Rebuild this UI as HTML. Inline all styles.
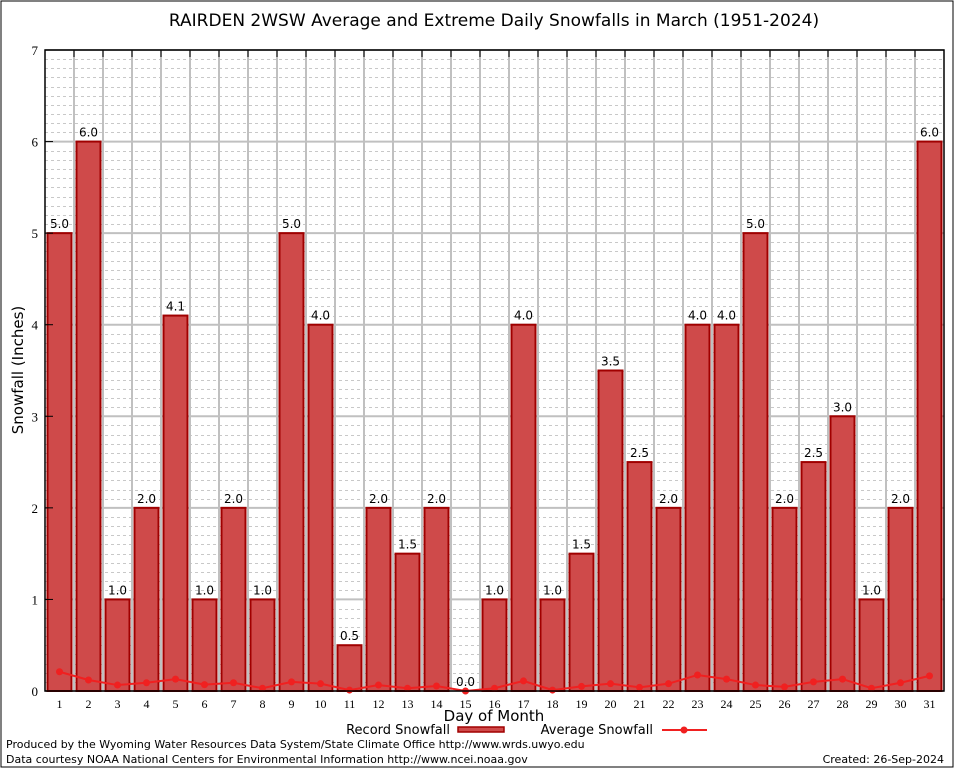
<!DOCTYPE html>
<html><head><meta charset="utf-8"><style>
body{margin:0;background:#fff;}
svg{display:block;font-family:"DejaVu Sans","Liberation Sans",sans-serif;}
</style></head><body>
<svg id="chart" width="954" height="768">
<rect x="1" y="1" width="952" height="766" fill="none" stroke="#000" stroke-width="1"/>
<text x="494" y="26" text-anchor="middle" font-size="17">RAIRDEN 2WSW Average and Extreme Daily Snowfalls in March (1951-2024)</text>
<g id="grid"></g>
<g id="bars"></g>
<g id="avg"></g>
<g id="axes"></g>
<text transform="translate(23,370) rotate(-90)" text-anchor="middle" font-size="15">Snowfall (Inches)</text>
<text x="494" y="721" text-anchor="middle" font-size="15">Day of Month</text>
<g>
<text x="450" y="734" text-anchor="end" font-size="13">Record Snowfall</text>
<rect x="458" y="727" width="46" height="5" fill="#cf4a4a" stroke="#a00000" stroke-width="1.5"/>
<text x="653" y="734" text-anchor="end" font-size="13">Average Snowfall</text>
<line x1="662" y1="730" x2="707" y2="730" stroke="#f02020" stroke-width="2"/>
<circle cx="684" cy="730" r="3.5" fill="#f02020"/>
</g>
<text x="6" y="748" font-size="11">Produced by the Wyoming Water Resources Data System/State Climate Office http://www.wrds.uwyo.edu</text>
<text x="6" y="763" font-size="11">Data courtesy NOAA National Centers for Environmental Information http://www.ncei.noaa.gov</text>
<text x="944" y="763" text-anchor="end" font-size="11">Created: 26-Sep-2024</text>
</svg>
<script>
const days=[1,2,3,4,5,6,7,8,9,10,11,12,13,14,15,16,17,18,19,20,21,22,23,24,25,26,27,28,29,30,31];
const recordSnow=[5.0,6.0,1.0,2.0,4.1,1.0,2.0,1.0,5.0,4.0,0.5,2.0,1.5,2.0,0.0,1.0,4.0,1.0,1.5,3.5,2.5,2.0,4.0,4.0,5.0,2.0,2.5,3.0,1.0,2.0,6.0];
const avgSnow=[0.21,0.12,0.065,0.09,0.13,0.07,0.09,0.03,0.1,0.08,0.01,0.065,0.03,0.055,0.0,0.03,0.11,0.01,0.05,0.08,0.04,0.08,0.175,0.13,0.065,0.045,0.1,0.13,0.03,0.09,0.165];
const yTicks=[0,1,2,3,4,5,6,7];
const NS='http://www.w3.org/2000/svg';
const L=45,R=944,T=50,B=691,yMax=7;
const slot=(R-L)/days.length;
function xs(i){return L+slot*(i+0.5);}
function ys(v){return B-(v/yMax)*(B-T);}
function mk(tag,attrs,parent){const e=document.createElementNS(NS,tag);for(const k in attrs)e.setAttribute(k,attrs[k]);parent.appendChild(e);return e;}
const grid=document.getElementById('grid'),bars=document.getElementById('bars'),avg=document.getElementById('avg'),axes=document.getElementById('axes');
for(let k=1;k<yMax*10;k++){if(k%10===0)continue;const y=Math.round(ys(k/10))+0.5;
const l=mk('line',{x1:L,x2:R,y1:y,y2:y,stroke:'#c8c8c8','stroke-width':1,'stroke-dasharray':'3,3'},grid);

}
yTicks.forEach(v=>{const y=ys(v);
const l=mk('line',{x1:L,x2:R,y1:y,y2:y,stroke:'#c0c0c0','stroke-width':2},grid);


const t=mk('text',{x:38,y:y+5,'text-anchor':'end','font-size':13,'font-family':'"Liberation Serif",serif'},axes);t.textContent=v;


const tk=mk('line',{x1:L,x2:L+8,y1:y,y2:y,stroke:'#000'},axes);

});
for(let k=1;k<days.length;k++){const x=L+slot*k;
const l=mk('line',{x1:x,x2:x,y1:T,y2:B,stroke:'#c0c0c0','stroke-width':2},grid);


const tk=mk('line',{x1:x,x2:x,y1:T,y2:T+7,stroke:'#000'},axes);

}
days.forEach((d,i)=>{const x=xs(i),v=recordSnow[i],y=ys(v);
if(v>0){const r=mk('rect',{x:x-12,y:y,width:24,height:B-y,fill:'#cf4a4a',stroke:'#a00000','stroke-width':2},bars);

}
const t=mk('text',{x:x,y:y-5,'text-anchor':'middle','font-size':12},bars);t.textContent=v.toFixed(1);


const xl=mk('text',{x:x,y:708,'text-anchor':'middle','font-size':12,'font-family':'"Liberation Serif",serif'},axes);xl.textContent=d;

});
let dstr='';avgSnow.forEach((v,i)=>{dstr+=(i?'L':'M')+xs(i)+','+ys(v);});
const p=mk('path',{d:dstr,fill:'none',stroke:'#f02020','stroke-width':2},avg);


avgSnow.forEach((v,i)=>{const c=mk('circle',{cx:xs(i),cy:ys(v),r:3.5,fill:'#f02020'},avg);

});
const fr=mk('rect',{x:L,y:T,width:R-L,height:B-T,fill:'none',stroke:'#000','stroke-width':1.5},axes);


</script>
</body></html>
